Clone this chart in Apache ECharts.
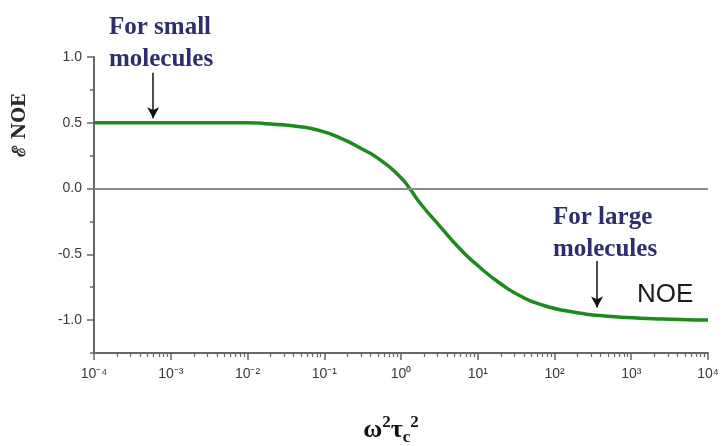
<!DOCTYPE html>
<html><head><meta charset="utf-8">
<script src="https://cdn.jsdelivr.net/npm/echarts@6/dist/echarts.min.js"></script>
<style>html,body{margin:0;padding:0;background:#fff}#c{width:725px;height:446px}</style>
</head><body><div id="c"></div>
<script>
// omega^2 tau_c^2 values (log axis) and NOE enhancement
const xValues = [0.0001, 0.001, 0.01, 0.02, 0.048, 0.088, 0.16, 0.29, 0.53, 0.97, 1.3, 1.77, 3.2, 5.9, 10.7, 19.5, 35.5, 65, 160, 390, 1300, 4300, 10000];
const yValues = [0.5, 0.5, 0.5, 0.49, 0.47, 0.44, 0.385, 0.31, 0.22, 0.09, 0.0, -0.11, -0.285, -0.46, -0.60, -0.72, -0.815, -0.88, -0.935, -0.965, -0.985, -0.995, -1.0];
const xMajorTicks = [1e-4, 1e-3, 1e-2, 1e-1, 1, 10, 100, 1000, 10000];
const yMajorTicks = [-1, -0.5, 0, 0.5, 1];
const yMinorTicks = [-1.25, -0.75, -0.25, 0.25, 0.75];
const smallArrow = { x: 5.9e-4, from: 0.88, to: 0.535 };
const largeArrow = { x: 358, from: -0.55, to: -0.905 };

const xMinorTicks = [];
for (let e = -4; e < 4; e++) for (let k = 2; k <= 9; k++) xMinorTicks.push(k * Math.pow(10, e));

const supMap = { '-': '\u207B', '0': '\u2070', '1': '\u00B9', '2': '\u00B2', '3': '\u00B3', '4': '\u2074' };
function expLabel(v) {
  const e = Math.round(Math.log10(v));
  return '10' + String(e).split('').map(c => supMap[c]).join('');
}

const chart = echarts.init(document.getElementById('c'));
const labelColor = '#3a3a3a';
chart.setOption({
  backgroundColor: '#fff',
  animation: false,
  grid: { left: 94, right: 17, top: 57, bottom: 93, containLabel: false },
  xAxis: [{
    type: 'log', logBase: 10, min: 1e-4, max: 1e4, position: 'bottom',
    axisLine: { show: true, onZero: false, lineStyle: { color: '#666', width: 2 } },
    axisTick: { show: true, customValues: xMajorTicks, length: 7, lineStyle: { color: '#666', width: 1.5 } },
    axisLabel: { customValues: xMajorTicks, formatter: expLabel, color: labelColor, fontSize: 14, fontFamily: 'Liberation Sans, Arial, sans-serif', margin: 14 },
    splitLine: { show: false }, minorTick: { show: false }
  }, {
    type: 'log', logBase: 10, min: 1e-4, max: 1e4, position: 'bottom',
    axisLine: { show: false, onZero: false },
    axisTick: { show: true, customValues: xMinorTicks, length: 4, lineStyle: { color: '#666', width: 1.2 } },
    axisLabel: { show: false }, splitLine: { show: false }
  }],
  yAxis: [{
    type: 'value', min: -1.25, max: 1.0, interval: 0.25, position: 'left',
    axisLine: { show: true, onZero: false, lineStyle: { color: '#666', width: 2 } },
    axisTick: { show: true, customValues: yMajorTicks, length: 7, lineStyle: { color: '#666', width: 1.5 } },
    axisLabel: { customValues: yMajorTicks, formatter: v => v.toFixed(1), color: labelColor, fontSize: 14, fontFamily: 'Liberation Sans, Arial, sans-serif', margin: 12 },
    splitLine: { show: false }
  }, {
    type: 'value', min: -1.25, max: 1.0, interval: 0.25, position: 'left',
    axisLine: { show: false, onZero: false },
    axisTick: { show: true, customValues: yMinorTicks, length: 4, lineStyle: { color: '#666', width: 1.5 } },
    axisLabel: { show: false }, splitLine: { show: false }
  }],
  series: [{
    type: 'line', data: [], z: 1, silent: true,
    markLine: {
      silent: true, symbol: ['none', 'none'], label: { show: false },
      lineStyle: { color: '#8a8a8a', width: 2, type: 'solid' },
      data: [{ yAxis: 0 }]
    }
  }, {
    type: 'line', z: 3, smooth: 0.6, showSymbol: false,
    data: xValues.map((x, i) => [x, yValues[i]]),
    lineStyle: { color: '#1e8a1e', width: 3.5 },
    itemStyle: { color: '#1e8a1e' }
  }, {
    type: 'line', data: [], z: 4, silent: true,
    markLine: {
      silent: true, symbol: ['none', 'arrow'], symbolSize: [9, 11], label: { show: false },
      lineStyle: { color: '#111', width: 1.5, type: 'solid' },
      itemStyle: { color: '#111' },
      data: [
        [{ coord: [smallArrow.x, smallArrow.from] }, { coord: [smallArrow.x, smallArrow.to] }],
        [{ coord: [largeArrow.x, largeArrow.from] }, { coord: [largeArrow.x, largeArrow.to] }]
      ]
    }
  }],
  graphic: [
    { type: 'text', left: 109, top: 12, style: { text: 'For small\nmolecules', fill: '#2e2d6e', font: 'bold 25px "Liberation Serif", "Times New Roman", serif', lineHeight: 32 } },
    { type: 'text', left: 553, top: 202, style: { text: 'For large\nmolecules', fill: '#2e2d6e', font: 'bold 25px "Liberation Serif", "Times New Roman", serif', lineHeight: 32 } },
    { type: 'text', left: 637, top: 282, style: { text: 'NOE', fill: '#1a1a1a', font: '26px "Liberation Sans", Arial, sans-serif' } },
    { type: 'text', x: 20, y: 125, rotation: Math.PI / 2, style: { text: '\u2130 NOE', fill: '#2a2a2a', font: 'bold 18px "DejaVu Serif", "Liberation Serif", serif', align: 'center', verticalAlign: 'middle' } },
    { type: 'text', x: 391, y: 430, style: {
      text: '{b|\u03C9}{sup|2}{b|\u03C4}{sub|c}{sup|2}', align: 'center', verticalAlign: 'middle',
      rich: {
        b: { font: 'bold 26px "Liberation Serif", serif', fill: '#111', lineHeight: 32, verticalAlign: 'middle' },
        sup: { font: 'bold 17px "Liberation Serif", serif', fill: '#111', lineHeight: 16, verticalAlign: 'top' },
        sub: { font: 'bold 17px "Liberation Serif", serif', fill: '#111', lineHeight: 16, verticalAlign: 'bottom' }
      }
    } }
  ]
});
</script></body></html>
